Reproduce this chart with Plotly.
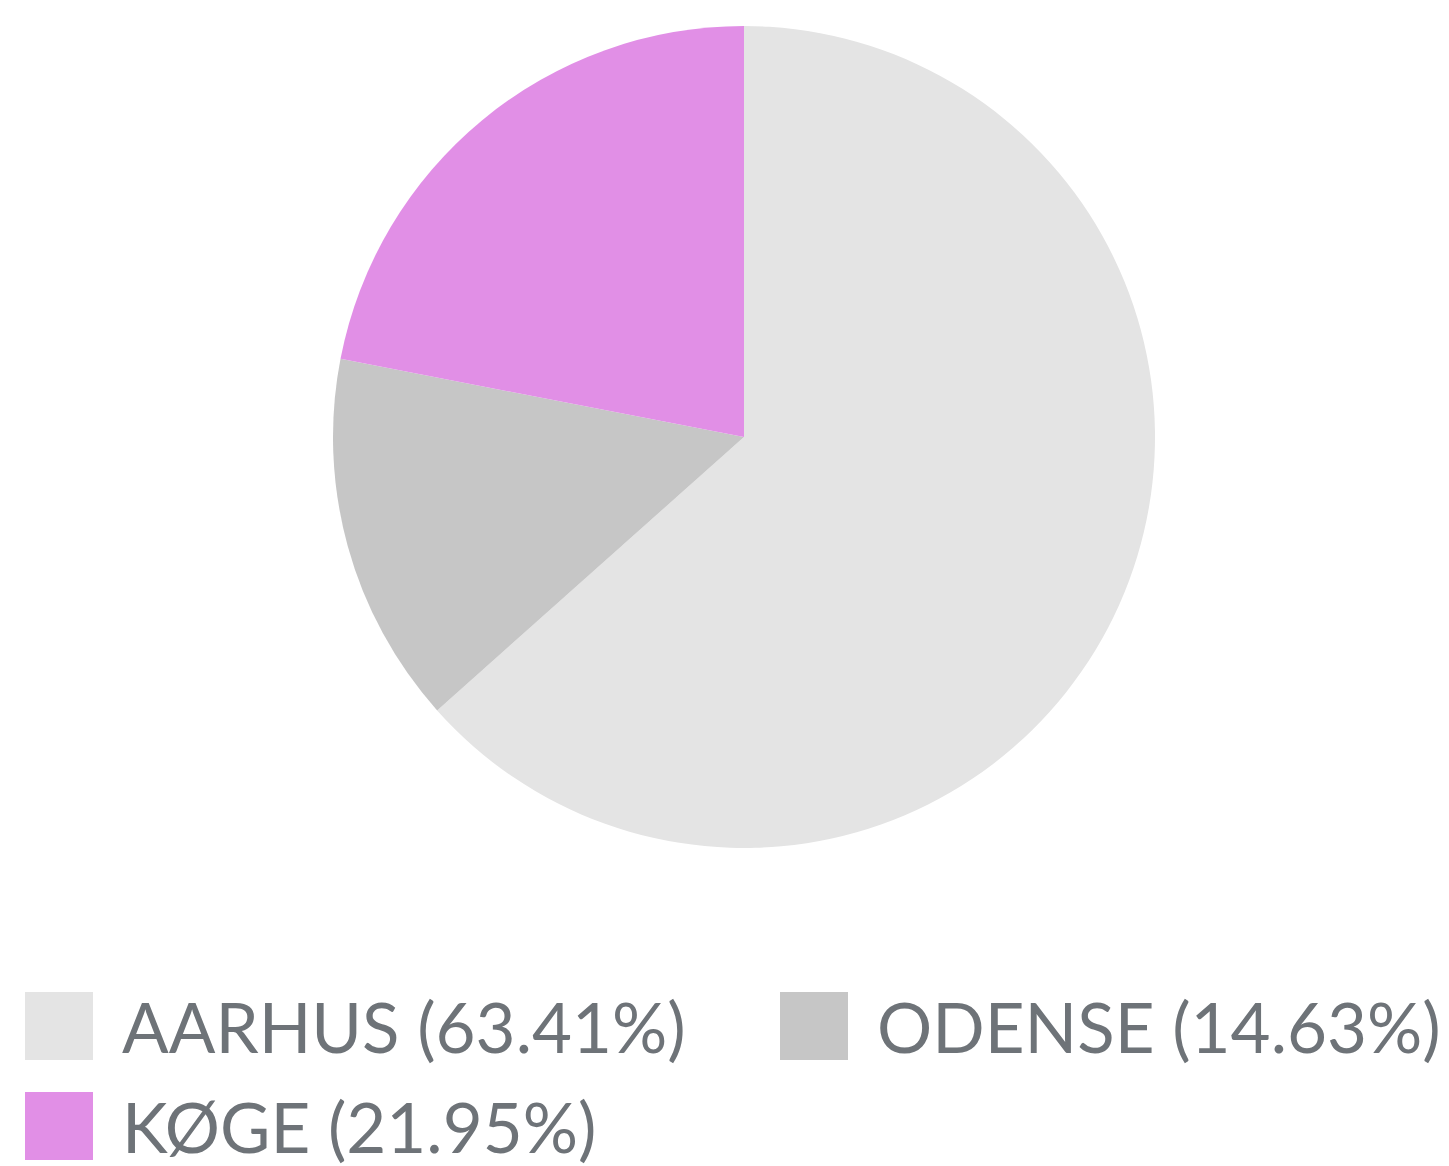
import plotly.graph_objects as go

W, H = 1449, 1166
OFF = 8  # the page body margin shifts the figure by 8 px

labels = ["AARHUS", "ODENSE", "KØGE"]
values = [63.41, 14.63, 21.95]
colors = ["#e4e4e4", "#c6c6c6", "#e18fe6"]


def px(x):
    return (x - OFF) / W


def py(y):
    return 1 - (y - OFF) / H


fig = go.Figure()

# pie centred at about (744, 437) px, radius ~411 px
cx, cy, r = 744, 437, 411
fig.add_trace(go.Pie(
    labels=labels,
    values=values,
    sort=False,
    direction="clockwise",
    rotation=0,
    marker=dict(colors=colors, line=dict(width=0)),
    textinfo="none",
    hoverinfo="label+percent",
    showlegend=False,
    domain=dict(x=[px(cx - r), px(cx + r)], y=[py(cy + r), py(cy - r)]),
))

# hand-made legend (big squares like the original)
legend_pos = [(25, 992), (780, 992), (25, 1092)]
box = 68
for (lx, ly), lab, val, col in zip(legend_pos, labels, values, colors):
    fig.add_shape(type="rect", xref="paper", yref="paper",
                  x0=px(lx), x1=px(lx + box),
                  y0=py(ly), y1=py(ly + box),
                  fillcolor=col, line=dict(width=0))
    fig.add_annotation(xref="paper", yref="paper",
                       x=px(lx + 95), y=py(ly + box / 2),
                       xanchor="left", yanchor="middle",
                       text=f"{lab} ({val:.2f}%)", showarrow=False,
                       font=dict(family="Lato", size=69, color="#6e7378"))

fig.update_layout(
    width=W, height=H,
    margin=dict(l=0, r=0, t=0, b=0),
    paper_bgcolor="white",
    plot_bgcolor="white",
)

fig.write_html("out.html")
